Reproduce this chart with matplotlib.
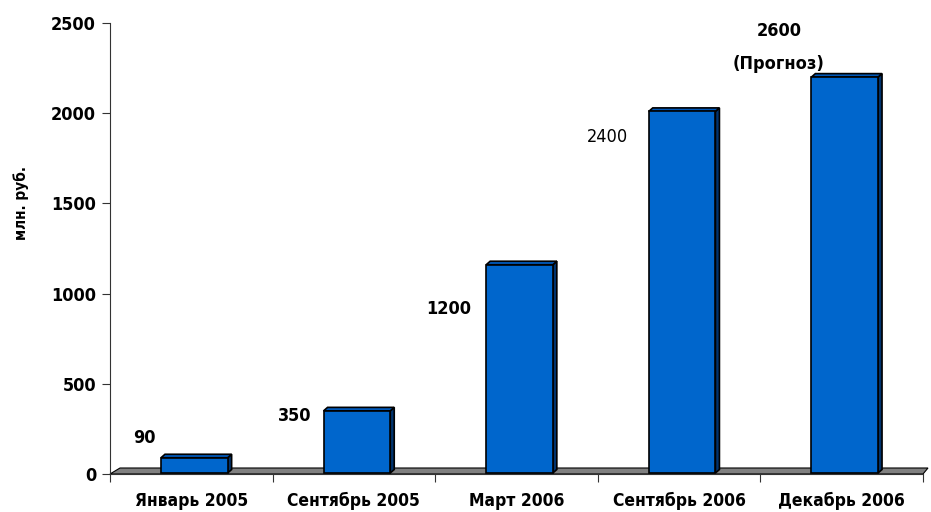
import matplotlib
matplotlib.use("Agg")
import matplotlib.pyplot as plt
from matplotlib.patches import Polygon, Rectangle

# Данные графика
categories = ["Январь 2005", "Сентябрь 2005", "Март 2006", "Сентябрь 2006", "Декабрь 2006"]
bar_values = [90, 350, 1160, 2010, 2200]          # высота столбцов по оси
label_texts = ["90", "350", "1200", "2400", "2600"]
label_bold = [True, True, True, False, True]
forecast_note = "(Прогноз)"
y_ticks = [0, 500, 1000, 1500, 2000, 2500]

plt.rcParams["font.family"] = ["DejaVu Sans"]
plt.rcParams["font.stretch"] = "condensed"

W, H = 931, 512
fig = plt.figure(figsize=(W / 100, H / 100), dpi=100)
ax = fig.add_axes([110 / W, 38 / H, 813 / W, 451 / H])
ax.set_xlim(0, len(categories))
ax.set_ylim(0, 2500)

# перевод пикселей в единицы данных
px_x = len(categories) / 813
px_y = 2500 / 451

face = "#0066cc"
side = "#00336e"
top = "#0058b8"

# пол (серая подложка)
floor = Polygon([(0, 0), (len(categories), 0),
                 (len(categories) + 5 * px_x, 6 * px_y), (10 * px_x, 6 * px_y)],
                closed=True, facecolor="#808080", edgecolor="black", lw=0.8,
                zorder=1, clip_on=False)
ax.add_patch(floor)

bw = 0.41
shift = 3 * px_x
dx, dy = 4 * px_x, 3.5 * px_y
for i, v in enumerate(bar_values):
    x0 = i + 0.5 - bw / 2 + shift
    x1 = x0 + bw
    y0 = 1 * px_y
    # боковая грань
    ax.add_patch(Polygon([(x1, y0), (x1 + dx, y0 + dy), (x1 + dx, v + dy), (x1, v)],
                         closed=True, facecolor=side, edgecolor="black", lw=1.2,
                         zorder=2, clip_on=False))
    # верхняя грань
    ax.add_patch(Polygon([(x0, v), (x0 + dx, v + dy), (x1 + dx, v + dy), (x1, v)],
                         closed=True, facecolor=top, edgecolor="black", lw=1.2,
                         zorder=2, clip_on=False))
    # передняя грань
    ax.add_patch(Rectangle((x0, y0), bw, v - y0, facecolor=face,
                           edgecolor="black", lw=1.2, zorder=3, clip_on=False))

# подписи значений (размещены вручную, как в оригинале)
label_pos_px = [(144, 438), (295, 416), (449, 309), (607, 137), (779, 31)]
for (px, py), txt, b in zip(label_pos_px, label_texts, label_bold):
    ax.text((px - 110) * px_x, (474 - py) * px_y, txt, ha="center", va="center",
            fontsize=13, fontweight="bold" if b else "normal", zorder=5)
ax.text((779 - 110) * px_x, (474 - 64) * px_y, forecast_note, ha="center",
        va="center", fontsize=13, fontweight="bold", zorder=5)

# оси
for s in ["top", "right"]:
    ax.spines[s].set_visible(False)
ax.spines["left"].set_color("#333333")
ax.spines["bottom"].set_color("#333333")
ax.spines["left"].set_linewidth(0.8)
ax.spines["bottom"].set_linewidth(0.8)

ax.set_yticks(y_ticks)
ax.set_yticklabels([str(t) for t in y_ticks], fontsize=13, fontweight="bold")
ax.tick_params(axis="y", length=6, width=0.8, pad=4, color="#333333")

ax.set_xticks(range(len(categories) + 1))
ax.set_xticklabels([])
ax.tick_params(axis="x", which="major", length=6, width=0.8, color="#333333")
ax.set_xticks([i + 0.5 for i in range(len(categories))], minor=True)
ax.set_xticklabels(categories, minor=True, fontsize=12.5, fontweight="bold")
ax.tick_params(axis="x", which="minor", length=0, pad=13)

fig.text(21 / W, 1 - 203 / H, "млн. руб.", rotation=90, ha="center", va="center",
         fontsize=11, fontweight="bold")

fig.savefig("out.png", dpi=100)
